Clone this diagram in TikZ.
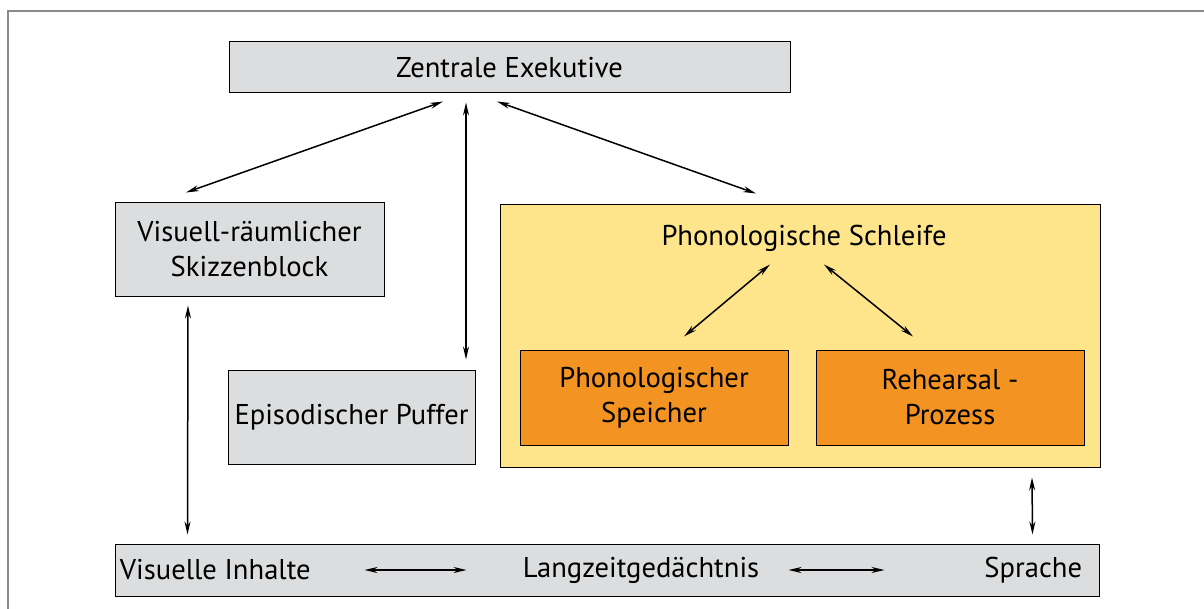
\documentclass[tikz,border=0pt]{standalone}
\usepackage{fontspec}
\setmainfont{PT Sans}
\usetikzlibrary{arrows.meta,positioning}
\definecolor{boxgray}{HTML}{DCDDDE}
\definecolor{loopyellow}{HTML}{FEE58B}
\definecolor{storeorange}{HTML}{F39422}
\definecolor{framegray}{HTML}{8A8A8A}

\begin{document}
\begin{tikzpicture}[x=1pt,y=-1pt,font=\fontsize{14.3}{17.5}\selectfont,box/.style={draw=black,line width=0.5pt,fill=boxgray,align=center,inner sep=0pt},sub/.style={box,fill=storeorange,minimum width=134pt,minimum height=47.5pt},txt/.style={inner sep=0pt},arr/.style={{Stealth[length=6.5pt,width=3pt]}-{Stealth[length=6.5pt,width=3pt]},line width=0.75pt}]
\useasboundingbox (0,0) rectangle (602,304.5);
\draw[framegray,line width=0.8pt] (610,5.5) -- (4,5.5) -- (4,310);
\node[box,minimum width=280.5pt,minimum height=25.5pt] (ze) at (254.75,33.75) {Zentrale Exekutive};
\node[box,minimum width=134.5pt,minimum height=46.5pt] (vs) at (124.75,124.75) {Visuell-räumlicher\\Skizzenblock};
\node[box,minimum width=123.5pt,minimum height=47pt] (ep) at (175.75,208.5) {Episodischer Puffer};
\node[box,fill=loopyellow,minimum width=300pt,minimum height=131pt] (ps) at (400,168) {};
\node[txt,anchor=base] (pst) at (402,122.9) {Phonologische Schleife};
\node[sub] (spe) at (327,198.75) {Phonologischer\\Speicher};
\node[sub,right=13.5pt of spe] (reh) {Rehearsal -\\Prozess};
\node[box,minimum width=492pt,minimum height=26pt] (lz) at (303.5,285) {};
\node[txt,anchor=west] (vi) at ([xshift=2.5pt]lz.west) {Visuelle Inhalte};
\node[txt] (lzg) at (320.5,285) {Langzeitgedächtnis};
\node[txt,anchor=east] (spr) at ([xshift=-8.5pt]lz.east) {Sprache};
% connectors
\draw[arr] ([xshift=-33.25pt,yshift=-4pt]ze.south) -- ([xshift=-31.75pt,yshift=5pt]vs.north);
\draw[arr] ([xshift=-21.75pt,yshift=-4.5pt]ze.south) -- ([xshift=57.25pt,yshift=5pt]ep.north);
\draw[arr] ([xshift=-6.25pt,yshift=-4pt]ze.south) -- ([xshift=-22pt,yshift=5.5pt]ps.north);
\draw[arr] ([xshift=-15pt,yshift=-30pt]ps.north) -- ([xshift=15pt,yshift=6.5pt]spe.north);
\draw[arr] ([xshift=12pt,yshift=-30pt]ps.north) -- ([xshift=-18.5pt,yshift=6.5pt]reh.north);
\draw[arr] ([xshift=-30.75pt,yshift=-4.5pt]vs.south) -- ([xshift=36.5pt,yshift=4.5pt]lz.north west);
\draw[arr] ([xshift=116pt,yshift=-5pt]ps.south) -- ([xshift=-33.5pt,yshift=4.5pt]lz.north east);
\draw[arr] ([xshift=125pt]lz.west) -- ([xshift=176pt]lz.west);
\draw[arr] ([xshift=337pt]lz.west) -- ([xshift=385pt]lz.west);
\end{tikzpicture}
\end{document}
